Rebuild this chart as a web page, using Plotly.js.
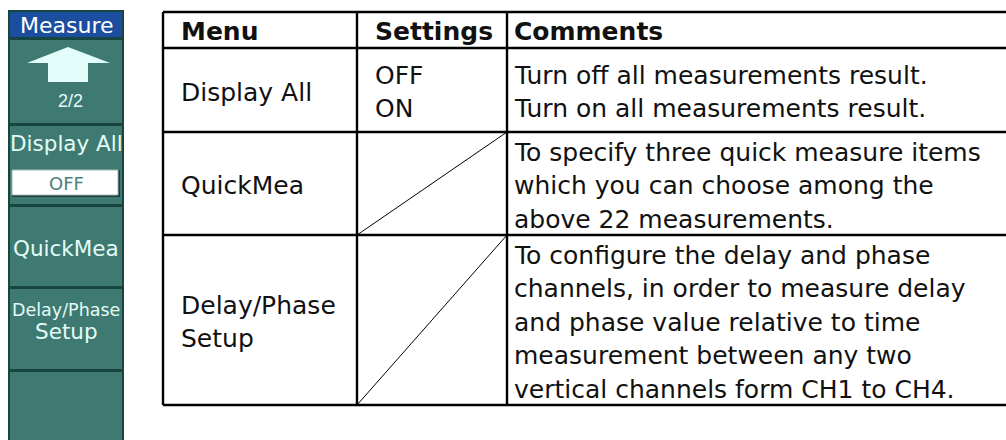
<!DOCTYPE html>
<html>
<head>
<meta charset="utf-8">
<script src="https://cdn.plot.ly/plotly-3.0.1.min.js"></script>
<style>html,body{margin:0;padding:0;background:#fff;}#chart{width:1006px;height:440px;}</style>
</head>
<body>
<div id="chart"></div>
<script>
// ---- data ----
const headers = ["Menu", "Settings", "Comments"];
const menuItems = [["Display All"], ["QuickMea"], ["Delay/Phase", "Setup"]];
const settingValues = [["OFF", "ON"], [], []];
const comments = [
  ["Turn off all measurements result.", "Turn on all measurements result."],
  ["To specify three quick measure items", "which you can choose among the", "above 22 measurements."],
  ["To configure the delay and phase", "channels, in order to measure delay", "and phase value relative to time", "measurement between any two", "vertical channels form CH1 to CH4."]
];
const panelTitle = "Measure";
const panelPage = "2/2";
const panelOption = "Display All";
const panelOptionValue = "OFF";
const panelItems = [["QuickMea"], ["Delay/Phase", "Setup"]];

// ---- geometry / style ----
const W = 1006, H = 440;
const colEdges = [163, 357, 507, 1012];
const rowEdges = [12, 48, 132, 235, 405];
const textPad = [16, 16, 5];
const lineGap = 33.5;
const tFont = "DejaVu Sans, Verdana, sans-serif";
const tSize = 25;
const pFont = "DejaVu Sans, sans-serif";
const pFont2 = "Liberation Sans, Arial, sans-serif";
const teal = "#3e7a72", dark = "#16463f", pale = "#e4fbf6", blue = "#1b4e9f";

const shapes = [];
const ann = [];
function rect(x0, y0, x1, y1, fill, line, lw) {
  shapes.push({type: "rect", xref: "x", yref: "y", x0, y0, x1, y1, fillcolor: fill, line: {color: line || fill, width: lw || 0}, layer: "below"});
}
function seg(x0, y0, x1, y1, w) {
  shapes.push({type: "line", xref: "x", yref: "y", x0, y0, x1, y1, line: {color: "#000", width: w}});
}
function txt(x, y, t, opts) {
  ann.push(Object.assign({x, y, xref: "x", yref: "y", text: t, showarrow: false, xanchor: "left", yanchor: "middle",
    font: {family: tFont, size: tSize, color: "#111"}}, opts || {}));
}

// ---- left menu panel ----
rect(8, 10, 124, H + 2, dark);
rect(10, 12, 122, 37, blue);
const sections = [[40, 123], [126, 204], [207, 286], [289, 369], [372, H + 2]];
sections.forEach(s => rect(10, s[0], 122, s[1], teal));
shapes.push({type: "path", xref: "x", yref: "y", path: "M 27 63 L 68 47 L 110 63 L 88 63 L 88 82 L 48 82 L 48 63 Z",
  fillcolor: "#e2fdfa", line: {width: 0}});
const pf = (size, color, fam) => ({family: fam || pFont, size: size, color: color || pale});
txt(67, 25, panelTitle, {xanchor: "center", font: pf(22, "#ffffff")});
txt(70, 101, panelPage, {xanchor: "center", font: pf(18, pale, pFont2)});
txt(66, 143, panelOption, {xanchor: "center", font: pf(21.5)});
rect(12, 170, 120, 197, "#1e3c38");
rect(12, 170, 118, 195, "#ffffff", "#9fb8b4", 1);
txt(66, 183, panelOptionValue, {xanchor: "center", font: pf(18, "#4d7f79")});
const itemY = [[248], [310, 331]];
panelItems.forEach((lines, i) => {
  lines.forEach((l, j) => {
    txt(66, itemY[i][j], l, {xanchor: "center", font: pf(l.length > 9 ? 17.5 : 21.5)});
  });
});

// ---- table ----
seg(colEdges[0], rowEdges[0], W + 5, rowEdges[0], 2.4);
rowEdges.slice(1).forEach(y => seg(colEdges[0], y, W + 5, y, 2.4));
colEdges.slice(0, 3).forEach(x => seg(x, rowEdges[0], x, rowEdges[rowEdges.length - 1], 2.4));
// diagonals in empty settings cells
settingValues.forEach((v, i) => {
  if (v.length === 0) seg(colEdges[1], rowEdges[i + 2], colEdges[2], rowEdges[i + 1], 1);
});
// header
headers.forEach((h, c) => {
  txt(colEdges[c] + textPad[c], (rowEdges[0] + rowEdges[1]) / 2 + 1, "<b>" + h + "</b>");
});
// body
function column(lines, c, r) {
  const mid = (rowEdges[r + 1] + rowEdges[r + 2]) / 2 + 2;
  lines.forEach((l, j) => txt(colEdges[c] + textPad[c], mid + (j - (lines.length - 1) / 2) * lineGap, l));
}
menuItems.forEach((lines, r) => column(lines, 0, r));
settingValues.forEach((lines, r) => column(lines, 1, r));
comments.forEach((lines, r) => column(lines, 2, r));

const layout = {
  width: W, height: H, margin: {l: 0, r: 0, t: 0, b: 0},
  paper_bgcolor: "#ffffff", plot_bgcolor: "#ffffff",
  xaxis: {range: [0, W], visible: false, fixedrange: true},
  yaxis: {range: [H, 0], visible: false, fixedrange: true},
  shapes: shapes, annotations: ann, showlegend: false
};
Plotly.newPlot("chart", [], layout, {staticPlot: true, displayModeBar: false});
</script>
</body>
</html>
